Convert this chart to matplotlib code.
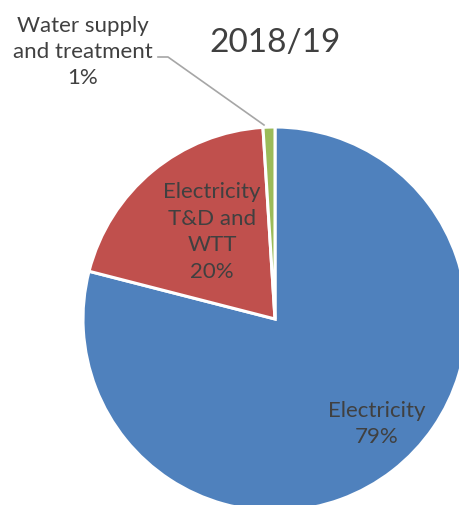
import matplotlib
matplotlib.use("Agg")
import matplotlib.pyplot as plt

categories = ["Electricity", "Electricity\nT&D and\nWTT", "Water supply\nand treatment"]
shares = [79, 20, 1]
colors = ["#4F81BD", "#C0504D", "#9BBB59"]
title = "2018/19"

plt.rcParams["font.family"] = ["Lato", "DejaVu Sans"]
text_color = "#404040"

fig = plt.figure(figsize=(4.6, 5.06), dpi=100)
# pie centre at (275, 320) px, radius 192 px
W, H = 460, 506
cx, cy, r = 275, 320, 192
ax = fig.add_axes([(cx - r) / W, (H - cy - r) / H, 2 * r / W, 2 * r / H])

wedges, _ = ax.pie(shares, colors=colors, startangle=90, counterclock=False,
                   radius=1, center=(0, 0), frame=False,
                   wedgeprops=dict(edgecolor="white", linewidth=2.2))
ax.set_xlim(-1, 1)
ax.set_ylim(-1, 1)
ax.set_aspect("equal")
ax.axis("off")
for w in wedges:
    w.set_clip_on(False)

def px(x, y):
    return ((x - cx) / r, (cy - y) / r)

labels = [f"{c}\n{v}%" for c, v in zip(categories, shares)]
label_pos = [px(377, 424), px(212, 232), px(83, 52)]
for lab, pos in zip(labels, label_pos):
    ax.text(*pos, lab, ha="center", va="center", fontsize=16,
            color=text_color, linespacing=1.4, clip_on=False)

# leader line for the smallest slice
lx, ly = zip(px(158, 58), px(168, 58), px(264, 126))
ax.plot(lx, ly, color="#A6A6A6", lw=1.2, clip_on=False)

ax.text(*px(275, 43), title, ha="center", va="center", fontsize=24,
        color=text_color, clip_on=False)

fig.savefig("out.png", dpi=100)
